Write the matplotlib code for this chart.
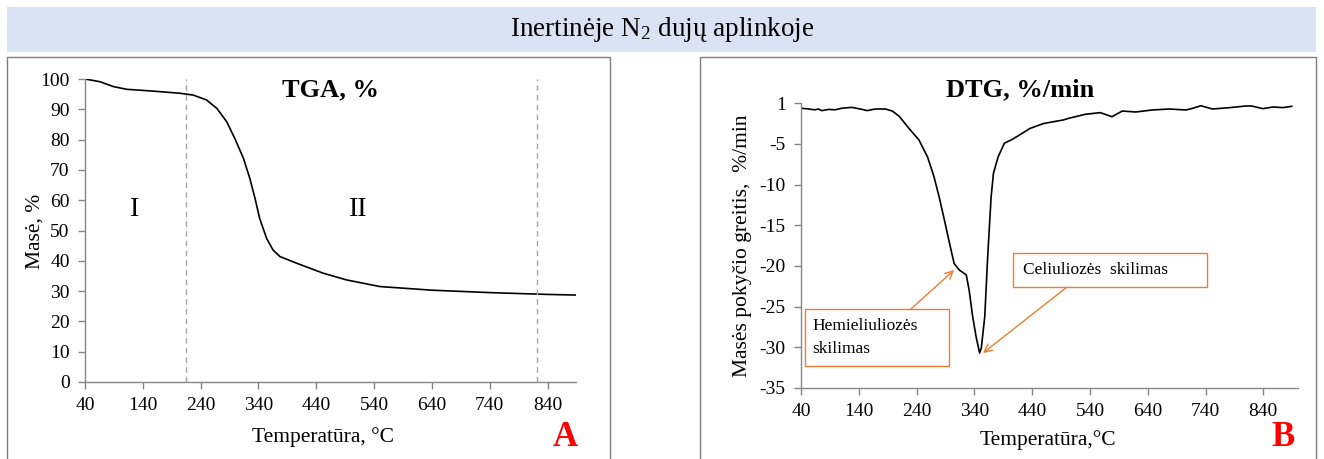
import matplotlib
matplotlib.use("Agg")
import matplotlib.pyplot as plt
from matplotlib.patches import Rectangle

plt.rcParams["font.family"] = ["Liberation Serif", "DejaVu Serif"]
plt.rcParams["mathtext.fontset"] = "custom"
plt.rcParams["mathtext.rm"] = "Liberation Serif"
plt.rcParams["mathtext.it"] = "Liberation Serif:italic"
plt.rcParams["mathtext.bf"] = "Liberation Serif:bold"

# TGA curve: temperature (°C) vs remaining mass (%)
tga_temp = [40, 66, 89, 112, 158, 204, 227, 250, 268, 285, 299, 314, 325, 334,
            342, 354, 365, 377, 406, 452, 492, 550, 640, 740, 840, 888]
tga_mass = [100, 99.1, 97.5, 96.6, 96.0, 95.3, 94.7, 93.1, 90.3, 85.9, 80.4, 73.8,
            67.2, 60.6, 54.0, 47.4, 43.6, 41.4, 39.2, 35.9, 33.7, 31.5, 30.3, 29.5,
            28.9, 28.7]

# stage boundaries on the TGA panel
stage_bounds = [214, 822]
stage_names = ["I", "II"]
stage_label_x = [126, 513]

# DTG curve: temperature (°C) vs mass loss rate (%/min)
dtg_temp = [40, 53, 64, 70, 76, 88, 99, 111, 128, 146, 154, 169, 186, 198, 210,
            227, 244, 259, 270, 279, 288, 297, 305, 314, 326, 331, 337, 343, 349,
            352, 358, 363, 369, 373, 381, 392, 404, 418, 436, 459, 474, 494, 503,
            532, 558, 578, 596, 619, 648, 677, 706, 716, 732, 752, 781, 810, 820,
            839, 857, 874, 889]
dtg_rate = [-0.6, -0.7, -0.8, -0.7, -0.9, -0.75, -0.8, -0.6, -0.5, -0.75, -0.9,
            -0.7, -0.7, -0.95, -1.6, -3.1, -4.5, -6.6, -9.0, -11.5, -14.3, -17.2,
            -19.7, -20.5, -21.1, -23.0, -26.2, -28.7, -30.7, -30.1, -26.2, -18.9,
            -11.5, -8.6, -6.6, -4.9, -4.5, -3.9, -3.1, -2.5, -2.3, -2.05, -1.85,
            -1.35, -1.15, -1.65, -0.95, -1.07, -0.82, -0.7, -0.82, -0.65, -0.3,
            -0.7, -0.54, -0.33, -0.33, -0.66, -0.45, -0.53, -0.37]

x_ticks = [40, 140, 240, 340, 440, 540, 640, 740, 840]
tga_yticks = [0, 10, 20, 30, 40, 50, 60, 70, 80, 90, 100]
dtg_yticks = [0, -5, -10, -15, -20, -25, -30, -35]
dtg_ytick_labels = ["1", "-5", "-10", "-15", "-20", "-25", "-30", "-35"]

W, H = 1324, 459
AXIS_GREY = "#868686"
ORANGE = "#ed7d31"


def px(x, y):
    """pixel position -> figure fraction"""
    return x / W, 1 - y / H


def style_axis(ax):
    for side in ("top", "right"):
        ax.spines[side].set_visible(False)
    for side in ("left", "bottom"):
        ax.spines[side].set_color(AXIS_GREY)
        ax.spines[side].set_linewidth(1.0)
    ax.tick_params(direction="out", length=5, width=1, color=AXIS_GREY,
                   labelsize=14, labelcolor="black", pad=6)
    ax.set_facecolor("none")
    ax.set_zorder(2)


fig = plt.figure(figsize=(W / 100, H / 100), dpi=100)

# header band
fig.patches.append(Rectangle(px(7, 52), 1309 / W, 45 / H, transform=fig.transFigure,
                             facecolor="#dae3f3", edgecolor="none", zorder=-2))
fig.text(*px(662, 30), r"Inertinėje N$_2$ dujų aplinkoje", ha="center", va="center",
         fontsize=19.5)

# panel frames
for x0, x1 in [(7, 610), (700, 1316)]:
    fig.patches.append(Rectangle(px(x0, 470), (x1 - x0) / W, (470 - 57) / H,
                                 transform=fig.transFigure, facecolor="white",
                                 edgecolor="#7f7f7f", linewidth=1.0, zorder=-2))

# ---- A: TGA ----
ax1 = fig.add_axes([85 / W, 1 - 382 / H, (576 - 85) / W, (382 - 79) / H])
style_axis(ax1)
ax1.plot(tga_temp, tga_mass, color="black", lw=1.2)
for xb in stage_bounds:
    ax1.plot([xb, xb], [0, 100], color="#a6a6a6", lw=1.0, ls=(0, (4, 3)))
for xl, name in zip(stage_label_x, stage_names):
    ax1.text(xl, 57, name, ha="center", va="center", fontsize=20)
ax1.set_xlim(40, 889)
ax1.set_ylim(0, 100)
ax1.set_xticks(x_ticks)
ax1.set_yticks(tga_yticks)
fig.text(*px(330, 90), "TGA, %", ha="center", va="center", fontsize=19,
         fontweight="bold")
fig.text(*px(35, 231), "Masė, %", ha="center", va="center", rotation=90, fontsize=15.5)
fig.text(*px(323, 437), "Temperatūra, °C", ha="center", va="center", fontsize=15.5)
fig.text(*px(565, 437), "A", ha="center", va="center", fontsize=25,
         fontweight="bold", color="red")

# ---- B: DTG ----
ax2 = fig.add_axes([801 / W, 1 - 388 / H, (1298 - 801) / W, (388 - 103.3) / H])
style_axis(ax2)
ax2.plot(dtg_temp, dtg_rate, color="black", lw=1.2)
ax2.set_xlim(40, 900)
ax2.set_ylim(-35, 0)
ax2.set_xticks(x_ticks)
ax2.set_yticks(dtg_yticks)
ax2.set_yticklabels(dtg_ytick_labels)
fig.text(*px(1020, 90), "DTG, %/min", ha="center", va="center", fontsize=19,
         fontweight="bold")
fig.text(*px(742, 246), "Masės pokyčio greitis,  %/min", ha="center", va="center",
         rotation=90, fontsize=15.5)
fig.text(*px(1048, 440), "Temperatūra,°C", ha="center", va="center", fontsize=15.5)
fig.text(*px(1283, 437), "B", ha="center", va="center", fontsize=25,
         fontweight="bold", color="red")

# callout boxes
ax2.add_patch(Rectangle((47, -32.3), 249, 7.0, facecolor="white", edgecolor=ORANGE,
                        lw=1.0, clip_on=False, zorder=3))
ax2.text(60, -28.8, "Hemieliuliozės\nskilimas", ha="left", va="center",
         fontsize=12.5, linespacing=1.6, zorder=4)
ax2.add_patch(Rectangle((407, -22.6), 336, 4.2, facecolor="white", edgecolor=ORANGE,
                        lw=1.0, clip_on=False, zorder=3))
ax2.text(424, -20.5, "Celiuliozės  skilimas", ha="left", va="center",
         fontsize=12.5, zorder=4)

arrow = dict(arrowstyle="->", color=ORANGE, lw=1.0, shrinkA=0, shrinkB=0,
             mutation_scale=14)
ax2.annotate("", xy=(305, -20.5), xytext=(230, -25.3), arrowprops=arrow)
ax2.annotate("", xy=(355, -30.7), xytext=(500, -22.6), arrowprops=arrow)

fig.savefig("out.png", dpi=100)
